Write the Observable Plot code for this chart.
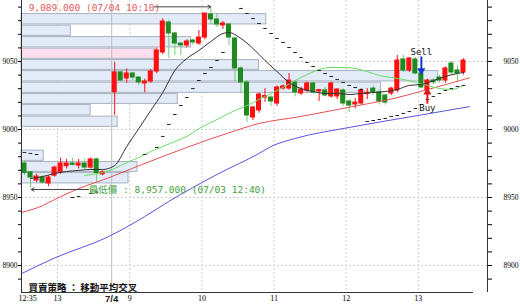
<!DOCTYPE html>
<html><head><meta charset="utf-8">
<script src="https://cdn.jsdelivr.net/npm/d3@7"></script>
<script src="https://cdn.jsdelivr.net/npm/@observablehq/plot@0.6"></script>
<style>html,body{margin:0;padding:0;background:#fff}</style>
</head><body><div id="chart"></div>
<script>
// ---- candles (5-min bars, index position) ----
const candleIdx = [0,1,2,3,4,5,6,7,8,9,10,11,12,13,
 15,16,17,18,19,20,21,22,23,24,25,26,27,28,29,30,31,32,33,34,35,36,37,38,39,40,41,42,43,44,
 45,46,47,48,49,50,51,52,53,54,55,56,57,58,59,60,61,62,63,64,65,66,67,68,69,70,71,72,73];
const openP = [8975,8968.5,8962.5,8964.7,8960.3,8966,8968.4,8973,8975,8973.5,8975,8972,8978,8967,
 9027.4,9042,9037.5,9041.2,9038.2,9033.8,9035.3,9042.6,9056.6,9078.7,9070.6,9063.2,9061.8,9065.4,9063.2,9067.6,9084.6,9080.9,9076.5,9077.2,9066.9,9044.9,9034.6,9008.8,9014,9023.5,9023.5,9019.1,9030.1,9030.1,
 9034.6,9026.5,9028.7,9033.8,9028,9028.7,9024.3,9024.3,9028.7,9020.6,9018.4,9019.1,9026,9030.1,9027.2,9025,9026.5,9028.7,9051.5,9043.4,9051.5,9041.2,9028.7,9036,9038.2,9036,9048.5,9043.4,9041.9];
const highP = [8977,8969,8967,8966,8966,8973,8979,8978,8979,8978,8978,8979,8979,8969.5,
 9049.5,9043,9044.5,9042,9039,9037,9044,9060,9081.6,9080.5,9071.5,9064,9066,9066.5,9072.8,9085.3,9089,9085,9079.4,9078,9068,9046,9036,9017,9027,9030.1,9025,9032,9033,9041.2,
 9036,9031,9035,9035,9029.5,9031,9035,9030,9030,9022,9023,9030,9030,9032,9029,9026,9031,9054.4,9054.4,9053,9053,9043,9037,9037.5,9040,9046,9050,9047,9052];
const lowP = [8966,8957,8961,8960,8958,8965,8967,8971,8973,8971,8970,8971,8961,8966,
 9010.3,9035,9034,9036,9032.4,9027,9034,9041,9055,9052.2,9054.4,9054.4,9060,9062,9062,9066,9077,9075,9073.6,9061.8,9034.6,9027,9005.2,9006.5,9012,9019.8,9016.9,9017,9029,9029,
 9024,9025,9027,9026,9020.6,9024,9023,9022,9017,9012.5,9015,9018,9022,9025,9018,9018,9025,9027,9042,9042,9040,9030,9026,9033,9034,9034,9040,9035,9040];
const closeP = [8968,8964.7,8965.4,8961,8964.7,8972,8975,8975,8974,8975,8972,8978,8968,8968.5,
 9042,9036,9041.2,9038.2,9034.6,9035.3,9042.6,9058.1,9079.4,9070.6,9063.2,9061.8,9064.7,9064,9067.6,9085.3,9080.9,9077.2,9077.9,9067.6,9044.9,9034.6,9010.3,9016.2,9025.7,9024.6,9020.6,9030.9,9031.6,9036,
 9027.2,9029.4,9033.8,9027.2,9029,9025,9033.8,9029.4,9019.1,9017.6,9019.8,9028.7,9027,9027.2,9020.6,9019.8,9030.1,9050.7,9043.4,9052.2,9041.2,9030.9,9036,9034.6,9036,9044.9,9041.9,9041.2,9050.7];

// ---- moving averages ----
const maBlackIdx = [1,3,5,7,9,11,13,15,17,19,21,23,25,27,29,31,33,34,36,38,40,42,44,46,48,50,52,54,56,58,60,62,64,66,68,70,72,73];
const maBlack = [8964,8965.4,8967.6,8969.1,8969.9,8970.6,8970.6,8973.5,8987.5,9000.7,9014,9027.2,9043.4,9052.2,9058.1,9064.7,9070.6,9071.3,9066.9,9059.6,9050.7,9042.6,9034.6,9030.1,9027.9,9026.5,9026.5,9025.7,9026.5,9027.2,9027.9,9029.4,9032.4,9033.1,9036,9039,9041.2,9041.9];
const maGreenIdx = [10,13,15,17,19,21,23,25,27,29,31,33,35,37,39,41,43,45,47,49,51,53,55,57,59,61,63,65,67,69,71,73];
const maGreen = [8966.2,8968.4,8971.3,8975.7,8979.4,8983.8,8987.5,8991.2,8994.9,9000.7,9005.1,9009.6,9014,9017.6,9022.1,9026.5,9030.9,9036,9040.4,9044.1,9045.6,9045.6,9044.9,9042.6,9039.7,9038.2,9036.8,9034.6,9032.4,9030.1,9029.4,9032.4];
const maRedIdx = [-0.5,3,5,9,14,19,27,34,39,46,54,61,67,74];
const maRed = [8939,8944,8948.5,8956.5,8964.5,8973.3,8986.8,8997.6,9004.4,9009.6,9016.4,9022.4,9029.3,9038];
const maBlueIdx = [-0.5,5,14,20,24,32,39,41,45,54,66,74];
const maBlue = [8894,8905.5,8921.3,8936,8947.1,8966.9,8982.4,8987.5,8993.4,9001.5,9010.7,9016.8];

// ---- stop-and-reverse dashes ----
const sarIdx = [0,1,2,8,9,11,12, 20,22,23,24,25,26,27,28,29,30,31,32,33,
 36,37,38,39,40,41,42,43,44,45,46,47,48,49,50,51,52,53,54,55,56,
 57,58,59,60,61,62,63,64,65,66,67,68,69,70,71,72,73];
const sarVal = [8983.1,8982.4,8981.6,8950,8950.7,8953,8954, 8981.6,8986.8,8994.9,9003.7,9011,9017.6,9023.5,9030.1,9036,9041.2,9045.6,9050.7,9056.6,
 9089,9085.3,9081.6,9077.9,9074.3,9070.6,9066.9,9064,9060.3,9056.6,9052.9,9049.3,9046.3,9043.4,9041.2,9039,9036.8,9034.6,9032.4,9030.9,9029.4,
 9005.9,9006.6,9007.4,9008.1,9009.6,9010.3,9011.8,9013.2,9015.4,9018.4,9022.1,9024.3,9026.5,9028.7,9030.1,9031.6,9032.4];

// ---- volume-at-price rows ----
const rowLo  = [9076.8,9068.4,9059.9,9051.5,9043.4,9034.9,9026.5,9018.4,9009.9,9001.5,8993.4,8984.9,8976.5,8968.4,8959.9];
const rowHi  = [9085.3,9076.8,9068.4,9059.9,9051.5,9043.4,9034.9,9026.5,9018.4,9009.9,9001.5,8993.4,8984.9,8976.5,8968.4];
const rowVol = [40.7,8.2,28.2,22.3,39.5,69.3,59.8,26,11.5,16,0,0,3.7,19.3,17.8];
const rowMark = [0,0,0,1,0,0,0,0,0,0,0,0,0,0,0];

// ---- axis ticks ----
const xTickPos = [0.5,5.5,17.5,29.5,41.5,53.5,65.5];
const xTickLabels = ["12:35","13","9","10","11","12","13"];
const xGridPos = [5.5,17.5,29.5,41.5,53.5,65.5];
const dayBreak = 14.5;
const dayLabel = "7/4";
const yGrid = [8900,8950,9000,9050];
const yTicks = d3.range(8890, 9091, 10);

// ---- annotations ----
const highText = "9,089.000 (07/04 10:10)";
const lowText = "最低價 : 8,957.000 (07/03 12:40)";
const strategyText = "買賣策略 ： 移動平均交叉";
const sellSig = {i: 66, from: 9053.7, to: 9043.4, text: "Sell", textY: 9054.5};
const buySig = {i: 67, from: 9019, to: 9027.5, text: "Buy", textY: 9018};

// build tables
const candles = candleIdx.map((i,k)=>({i, open:openP[k], high:highP[k], low:lowP[k], close:closeP[k]}));
const toPts = (xs, ys) => xs.map((x,k)=>({i:x, v:ys[k]}));
const rows = rowLo.map((lo,k)=>({lo, hi:rowHi[k], vol:rowVol[k], mark:rowMark[k]})).filter(d=>d.vol>0);
const sar = sarIdx.map((i,k)=>({i, v:sarVal[k]}));

const RED = "#ff1010", GREEN = "#1f8a1f", GREENWICK = "#6fcf6f";
const mono = "'DejaVu Sans Mono', 'Noto Sans CJK TC', monospace";
const serif = "'Liberation Serif', serif";

const chart = Plot.plot({
  width: 520, height: 304,
  marginLeft: 21, marginRight: 33, marginTop: 0, marginBottom: 12,
  style: {fontFamily: serif, fontSize: "8px", background: "#fff", overflow: "visible"},
  x: {type: "linear", domain: [-0.5, 77]},
  y: {domain: [8880.15, 9094.85]},
  marks: [
    Plot.ruleY(yGrid, {stroke: "#cfcfcf", strokeDasharray: "2,2"}),
    Plot.ruleX(xGridPos, {stroke: "#cfcfcf", strokeDasharray: "2,2"}),
    Plot.rect(rows, {x1: -0.5, x2: d => -0.5 + d.vol, y1: "lo", y2: "hi",
      fill: d => d.mark ? "#fbdfec" : "#e3ebf8", stroke: "#a9b1c0", strokeWidth: 1,
      insetTop: 0.6, insetBottom: 0.6}),
    Plot.ruleX([dayBreak], {stroke: "#bdbdbd"}),
    // candles
    Plot.ruleX(candles, {x: "i", y1: "low", y2: "high",
      stroke: d => d.close >= d.open ? RED : GREENWICK, strokeWidth: 1}),
    Plot.rect(candles, {x1: d => d.i - 0.42, x2: d => d.i + 0.42, y1: "open", y2: "close",
      fill: d => d.close >= d.open ? RED : GREEN, insetTop: -0.5, insetBottom: -0.5}),
    // moving averages
    Plot.line(toPts(maBlueIdx, maBlue), {x: "i", y: "v", stroke: "#5555dd", strokeWidth: 1, curve: "monotone-x"}),
    Plot.line(toPts(maRedIdx, maRed), {x: "i", y: "v", stroke: "#e85050", strokeWidth: 1, curve: "monotone-x"}),
    Plot.line(toPts(maGreenIdx, maGreen), {x: "i", y: "v", stroke: "#66dd66", strokeWidth: 1, curve: "monotone-x"}),
    Plot.line(toPts(maBlackIdx, maBlack), {x: "i", y: "v", stroke: "#333", strokeWidth: 1, curve: "monotone-x"}),
    // SAR dashes
    Plot.link(sar, {x1: d => d.i - 0.3, x2: d => d.i + 0.3, y1: "v", y2: "v", stroke: "#222", strokeWidth: 1}),
    // high / low annotations
    Plot.text([highText], {x: 0.7, y: 9089.3, text: d => d, textAnchor: "start", fill: "#e05a5a",
      fontFamily: mono, fontSize: 9.5}),
    Plot.arrow([{x1: 21.6, x2: 31, y: 9090.2}], {x1: "x1", x2: "x2", y1: "y", y2: "y",
      stroke: "#444", strokeWidth: 1, headLength: 5}),
    Plot.text([lowText], {x: 10.7, y: 8955.9, text: d => d, textAnchor: "start", fill: "#3f9f3f",
      fontFamily: mono, fontSize: 9.5}),
    Plot.arrow([{x1: 10.6, x2: 1.1, y: 8955.9}], {x1: "x1", x2: "x2", y1: "y", y2: "y",
      stroke: "#444", strokeWidth: 1, headLength: 5}),
    // signals
    Plot.link([sellSig], {x: "i", y1: "from", y2: "to", stroke: "#1536d0", strokeWidth: 2}),
    Plot.dot([sellSig], {x: "i", y: "to", symbol: "triangle", rotate: 180, r: 3, fill: "#1536d0"}),
    Plot.text([sellSig], {x: "i", y: "textY", text: "text", lineAnchor: "bottom", fontFamily: mono, fontSize: 9, fill: "#111"}),
    Plot.link([buySig], {x: "i", y1: "from", y2: "to", stroke: "#e01818", strokeWidth: 2}),
    Plot.dot([buySig], {x: "i", y: "to", symbol: "triangle", r: 3, fill: "#e01818"}),
    Plot.text([buySig], {x: "i", y: "textY", text: "text", lineAnchor: "top", fontFamily: mono, fontSize: 9, fill: "#111"}),
    // strategy caption
    Plot.text([strategyText], {frameAnchor: "bottom-left", dx: 7, dy: -2, text: d => d, textAnchor: "start",
      lineAnchor: "bottom", fontFamily: "'Noto Sans CJK TC', sans-serif", fontWeight: "bold", fontSize: 9.5, fill: "#111"}),
    // axes
    Plot.ruleX([-0.5, 77], {stroke: "#333"}),
    Plot.ruleY([8880.15], {x1: -0.5, x2: 74.67, stroke: "#333"}),
    Plot.axisY(yTicks, {anchor: "left", tickSize: 3, tickPadding: 1, tickFormat: d => d % 50 === 0 ? String(d) : "", fontSize: 7.5, label: null}),
    Plot.axisY(yTicks, {anchor: "right", tickSize: 4, tickPadding: 12, tickFormat: d => d % 50 === 0 ? String(d) : "", fontSize: 7.5, label: null}),
    Plot.axisX(xTickPos, {anchor: "bottom", tickSize: 0, tickPadding: 3, tickFormat: (d, k) => xTickLabels[k], fontSize: 8, label: null}),
    Plot.text([dayLabel], {x: dayBreak, frameAnchor: "bottom", dy: 6, lineAnchor: "middle", text: d => d,
      fontFamily: "'Liberation Sans', sans-serif", fontWeight: "bold", fontSize: 9.5, fill: "#222"})
  ]
});
document.getElementById("chart").appendChild(chart);
</script>
</body></html>
